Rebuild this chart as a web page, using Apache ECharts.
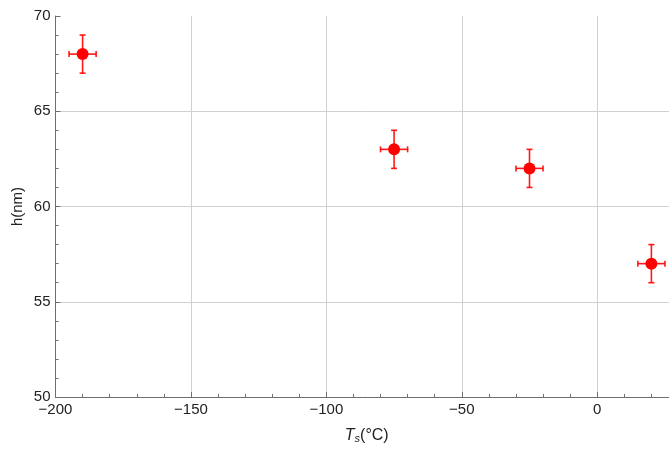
<!DOCTYPE html>
<html>
<head>
<meta charset="utf-8">
<script src="https://cdn.jsdelivr.net/npm/echarts@6/dist/echarts.min.js"></script>
<style>html,body{margin:0;padding:0;background:#fff}#c{width:669px;height:449px}</style>
</head>
<body>
<div id="c"></div>
<script>
const temps = [-190, -75, -25, 20];
const heights = [68, 63, 62, 57];
const tempErr = [5, 5, 5, 5];
const heightErr = [1, 1, 1, 1];

const chart = echarts.init(document.getElementById('c'), null, {renderer: 'canvas'});
const red = '#ff0000';
const axisGray = '#6e6e6e';
const fmt = v => (v % 5 === 0) ? ((v < 0 ? '\u2212' : '') + Math.abs(v)) : '';
const fmtX = v => (v % 50 === 0) ? ((v < 0 ? '\u2212' : '') + Math.abs(v)) : '';

const errData = temps.map((t, i) => [t, heights[i], tempErr[i], heightErr[i]]);

chart.setOption({
  animation: false,
  backgroundColor: '#fff',
  grid: {left: 55.5, right: 0, top: 16, bottom: 49},
  xAxis: [{
    type: 'value', min: -200, max: 26.5, interval: 50, position: 'bottom',
    name: '{i|T}{s|s}{n|(°C)}', nameLocation: 'middle', nameGap: 30,
    nameTextStyle: {padding: [0, 0, 0, 9], rich: {
      i: {fontStyle: 'italic', fontSize: 16, fontFamily: 'Liberation Sans', color: '#222'},
      s: {fontStyle: 'italic', fontSize: 11, fontFamily: 'Liberation Sans', color: '#222', verticalAlign: 'bottom', padding: [6, 0, 0, 0]},
      n: {fontSize: 16, fontFamily: 'Liberation Sans', color: '#222'}
    }},
    axisLine: {onZero: false, lineStyle: {color: axisGray, width: 1}},
    axisTick: {inside: true, length: 5, lineStyle: {color: axisGray}},
    axisLabel: {formatter: fmtX, fontSize: 15, fontFamily: 'Liberation Sans', color: '#222', margin: 5, showMaxLabel: false},
    splitLine: {show: true, showMinLine: false, showMaxLine: false, lineStyle: {color: '#d0d0d0', width: 1}}
  }, {
    type: 'value', min: -200, max: 26.5, interval: 10, position: 'bottom', offset: 0,
    axisLine: {show: false},
    axisTick: {show: true, inside: true, length: 3, lineStyle: {color: axisGray}},
    axisLabel: {show: false},
    splitLine: {show: false}
  }],
  yAxis: {
    type: 'value', min: 50, max: 70, interval: 5,
    name: 'h(nm)', nameLocation: 'middle', nameGap: 30, nameRotate: 90, nameMoveOverlap: false,
    nameTextStyle: {fontSize: 15, fontFamily: 'Liberation Sans', color: '#222'},
    axisLine: {show: true, onZero: false, lineStyle: {color: axisGray, width: 1}},
    axisTick: {show: true, inside: true, length: 5, lineStyle: {color: axisGray}},
    minorTick: {show: true, splitNumber: 5, length: 3, lineStyle: {color: axisGray}},
    axisLabel: {formatter: fmt, fontSize: 15, fontFamily: 'Liberation Sans', color: '#222', margin: 5},
    splitLine: {show: true, showMinLine: false, showMaxLine: false, lineStyle: {color: '#d0d0d0', width: 1}}
  },
  series: [
    {
      type: 'custom',
      data: errData,
      z: 2,
      renderItem: function (params, api) {
        const x = api.value(0), y = api.value(1), dx = api.value(2), dy = api.value(3);
        const l = api.coord([x - dx, y]), r = api.coord([x + dx, y]);
        const t = api.coord([x, y + dy]), b = api.coord([x, y - dy]);
        const c = 3;
        const style = {stroke: red, lineWidth: 1.6, opacity: 0.9};
        return {type: 'group', children: [
          {type: 'line', shape: {x1: l[0], y1: l[1], x2: r[0], y2: r[1]}, style},
          {type: 'line', shape: {x1: l[0], y1: l[1] - c, x2: l[0], y2: l[1] + c}, style},
          {type: 'line', shape: {x1: r[0], y1: r[1] - c, x2: r[0], y2: r[1] + c}, style},
          {type: 'line', shape: {x1: t[0], y1: t[1], x2: b[0], y2: b[1]}, style},
          {type: 'line', shape: {x1: t[0] - c, y1: t[1], x2: t[0] + c, y2: t[1]}, style},
          {type: 'line', shape: {x1: b[0] - c, y1: b[1], x2: b[0] + c, y2: b[1]}, style}
        ]};
      }
    },
    {
      type: 'scatter',
      z: 3,
      symbol: 'circle',
      symbolSize: 12,
      itemStyle: {color: red, opacity: 1},
      data: temps.map((t, i) => [t, heights[i]])
    }
  ]
});
</script>
</body>
</html>
